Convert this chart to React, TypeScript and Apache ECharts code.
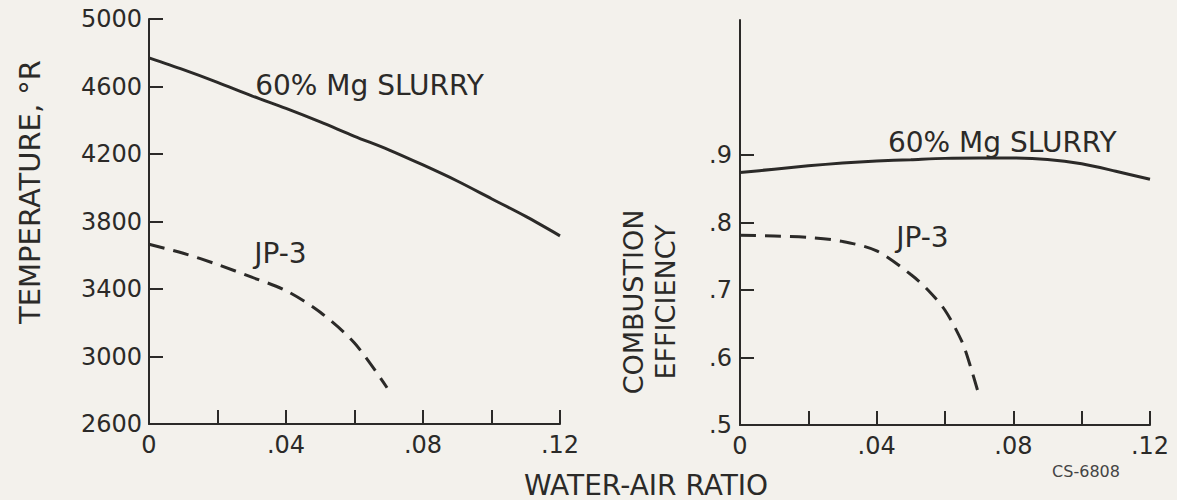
import React, { useEffect, useRef } from "react";
import * as echarts from "echarts";

// ---- data ----
const waterAirRatio = [0, 0.01, 0.02, 0.03, 0.04, 0.05, 0.06, 0.07, 0.08, 0.09, 0.1, 0.11, 0.12];
const tempMgSlurry = [4770, 4700, 4625, 4545, 4470, 4390, 4305, 4225, 4135, 4040, 3935, 3830, 3715];

const jp3TempRatio = [0, 0.01, 0.02, 0.03, 0.04, 0.05, 0.06, 0.0695];
const tempJP3 = [3665, 3612, 3545, 3470, 3390, 3262, 3080, 2815];

const effMgSlurry = [0.874, 0.879, 0.884, 0.888, 0.891, 0.893, 0.895, 0.8955, 0.8955, 0.8935, 0.887, 0.876, 0.864];

const jp3EffRatio = [0, 0.01, 0.02, 0.03, 0.04, 0.05, 0.055, 0.06, 0.065, 0.0675, 0.07];
const effJP3 = [0.781, 0.78, 0.778, 0.772, 0.758, 0.723, 0.7, 0.67, 0.623, 0.586, 0.543];

const tempTicks = [2600, 3000, 3400, 3800, 4200, 4600, 5000];
const effTicks = [0.5, 0.6, 0.7, 0.8, 0.9];
const ratioLabelTicks = [0, 0.04, 0.08, 0.12];

const seriesNames = ["60% Mg SLURRY", "JP-3"];
const xTitle = "WATER-AIR RATIO";
const leftTitle = "TEMPERATURE, °R";
const rightTitle = "COMBUSTION\nEFFICIENCY";
const figureCode = "CS-6808";

// label anchors (data coordinates)
const mgTempLabelAt = [0.031, 4608];
const jp3TempLabelAt = [0.0307, 3610];
const mgEffLabelAt = [0.0433, 0.919];
const jp3EffLabelAt = [0.0457, 0.778];

const INK = "#2b2a28";
const BG = "#f3f1ec";
const FONT = "'DejaVu Sans', sans-serif";

const fmtRatio = (v: number) => (v === 0 ? "0" : v.toFixed(2).replace(/^0/, ""));
const fmtEff = (v: number) => v.toFixed(1).replace(/^0/, "");
const fmtTemp = (v: number) => String(Math.round(v));

function labelMark(text: string, coord: number[]) {
  return {
    symbol: "circle",
    symbolSize: 0,
    silent: true,
    itemStyle: { color: "transparent" },
    label: {
      show: true,
      position: "right",
      distance: 0,
      formatter: text,
      color: INK,
      fontSize: 28,
      fontFamily: FONT,
    },
    data: [{ coord }],
  };
}

export default function App() {
  const ref = useRef<HTMLDivElement>(null);

  useEffect(() => {
    document.body.style.margin = "0";
    document.body.style.background = BG;
    const chart = echarts.init(ref.current!, null, { renderer: "svg" });

    const axisLine = { show: true, lineStyle: { color: INK, width: 2 } };
    const axisTick = { show: true, inside: true, length: 14, lineStyle: { color: INK, width: 2 } };
    const tickLabel = { color: INK, fontSize: 24, fontFamily: FONT };

    const xAxisCommon = (gridIndex: number) => ({
      type: "value",
      gridIndex,
      min: 0,
      max: 0.12,
      interval: 0.02,
      splitLine: { show: false },
      axisLine,
      axisTick,
      axisLabel: { ...tickLabel, margin: 9, customValues: ratioLabelTicks, formatter: fmtRatio },
    });

    const lineSeries = (name: string, idx: number, xs: number[], ys: number[], dashed: boolean, at: number[]) => ({
      name,
      type: "line",
      xAxisIndex: idx,
      yAxisIndex: idx,
      data: xs.map((x, i) => [x, ys[i]]),
      showSymbol: false,
      smooth: 0.3,
      lineStyle: dashed ? { color: INK, width: 3, type: [16, 9] } : { color: INK, width: 3 },
      markPoint: labelMark(name, at),
    });

    chart.setOption({
      animation: false,
      backgroundColor: BG,
      grid: [
        { left: 149, top: 19, width: 411, height: 405 },
        { left: 740, top: 20, width: 410, height: 405 },
      ],
      xAxis: [xAxisCommon(0), xAxisCommon(1)],
      yAxis: [
        {
          type: "value",
          gridIndex: 0,
          min: 2600,
          max: 5000,
          interval: 400,
          splitLine: { show: false },
          axisLine,
          axisTick: { ...axisTick, customValues: tempTicks },
          axisLabel: { ...tickLabel, margin: 7, customValues: tempTicks, formatter: fmtTemp },
        },
        {
          type: "value",
          gridIndex: 1,
          min: 0.5,
          max: 1.1,
          interval: 0.1,
          splitLine: { show: false },
          axisLine,
          axisTick: { ...axisTick, customValues: effTicks },
          axisLabel: { ...tickLabel, margin: 8, customValues: effTicks, formatter: fmtEff },
        },
      ],
      series: [
        lineSeries(seriesNames[0], 0, waterAirRatio, tempMgSlurry, false, mgTempLabelAt),
        lineSeries(seriesNames[1], 0, jp3TempRatio, tempJP3, true, jp3TempLabelAt),
        lineSeries(seriesNames[0], 1, waterAirRatio, effMgSlurry, false, mgEffLabelAt),
        lineSeries(seriesNames[1], 1, jp3EffRatio, effJP3, true, jp3EffLabelAt),
      ],
      graphic: [
        {
          type: "text",
          x: 646,
          y: 485,
          style: { text: xTitle, fill: INK, fontSize: 28, fontFamily: FONT, align: "center", verticalAlign: "middle" },
        },
        {
          type: "text",
          x: 30,
          y: 192,
          rotation: Math.PI / 2,
          style: { text: leftTitle, fill: INK, fontSize: 29, fontFamily: FONT, align: "center", verticalAlign: "middle" },
        },
        {
          type: "text",
          x: 649,
          y: 302,
          rotation: Math.PI / 2,
          style: {
            text: rightTitle,
            fill: INK,
            fontSize: 27,
            lineHeight: 32,
            fontFamily: FONT,
            align: "center",
            verticalAlign: "middle",
          },
        },
        {
          type: "text",
          x: 1086,
          y: 471,
          style: { text: figureCode, fill: "#444", fontSize: 16, fontFamily: FONT, align: "center", verticalAlign: "middle" },
        },
      ],
    });

    return () => chart.dispose();
  }, []);

  return <div ref={ref} style={{ width: 1177, height: 500 }} />;
}
